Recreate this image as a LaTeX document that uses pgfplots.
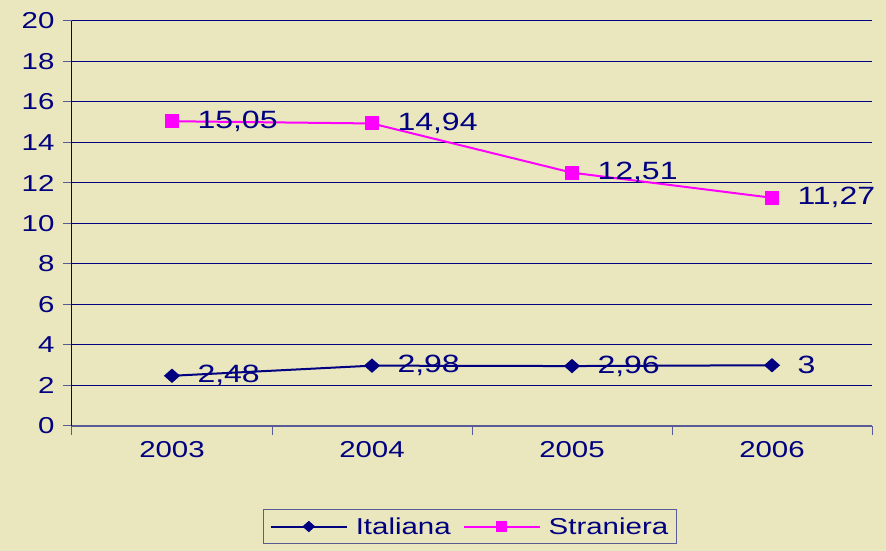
\documentclass[border=0pt]{standalone}
\usepackage{fontspec}
\setmainfont{Liberation Sans}[FakeStretch=1.28]
\usepackage{pgfplots}
\pgfplotsset{compat=1.18}
\definecolor{bg}{HTML}{EAE6BE}
\definecolor{navy}{HTML}{000080}
\definecolor{mag}{HTML}{FF00FF}
\definecolor{axgrey}{HTML}{5A5A96}
\begin{document}
\begin{tikzpicture}[x=1pt,y=1pt]
\path[use as bounding box, fill=bg] (0,0) rectangle (886,551);
\begin{axis}[
  at={(72pt,125pt)}, anchor=south west,
  scale only axis, width=800pt, height=405pt,
  xmin=-0.5, xmax=3.5, ymin=0, ymax=20,
  ytick={0,2,...,20},
  xtick={-0.5,0.5,1.5,2.5,3.5}, xticklabels={},
  extra x ticks={0,1,2,3},
  extra x tick labels={2003,2004,2005,2006},
  extra x tick style={major tick length=0pt, grid=none},
  axis x line*=bottom, axis y line*=left,
  x axis line style={axgrey, line width=1.2pt},
  y axis line style={navy, line width=1pt},
  tick align=outside, major tick length=9pt,
  tick style={axgrey, line width=1pt},
  ymajorgrids, grid style={navy, line width=1pt},
  /pgf/number format/assume math mode=true,
  tick label style={font=\fontsize{23}{27}\selectfont, text=navy},
  yticklabel style={xshift=-5pt},
  xticklabel style={yshift=-12pt},
  clip=false,
  nodes near coords,
  point meta=explicit symbolic,
  every node near coord/.append style={anchor=west, xshift=25pt, inner sep=0pt,
     font=\fontsize{25}{29}\selectfont, text=navy},
  legend columns=2,
  legend style={at={(0.4975,-0.205)}, anchor=north, draw=axgrey, line width=0.8pt, fill=none,
     font=\fontsize{23}{27}\selectfont, text=navy, inner xsep=6pt, inner ysep=6pt,
     column sep=6pt, /tikz/every even column/.append style={column sep=10pt}},
  legend image code/.code={\draw[mark repeat=2,mark phase=2,#1] plot coordinates {(0pt,0pt)(38pt,0pt)(76pt,0pt)};},
  every legend image post/.append style={mark size=5pt},
]
\addplot[navy, line width=2pt, mark=diamond*, mark size=6.5pt, mark options={xscale=1.5, solid, fill=navy, line width=1pt}]
  coordinates {(0,2.48) [2,48] (1,2.98) [2,98] (2,2.96) [2,96] (3,3) [3]};
\addlegendentry{Italiana}
\addplot[mag, line width=2pt, mark=square*, mark size=6.5pt, mark options={solid, fill=mag, line width=1pt}]
  coordinates {(0,15.05) [15,05] (1,14.94) [14,94] (2,12.51) [12,51] (3,11.27) [11,27]};
\addlegendentry{Straniera}
\end{axis}
\end{tikzpicture}
\end{document}
